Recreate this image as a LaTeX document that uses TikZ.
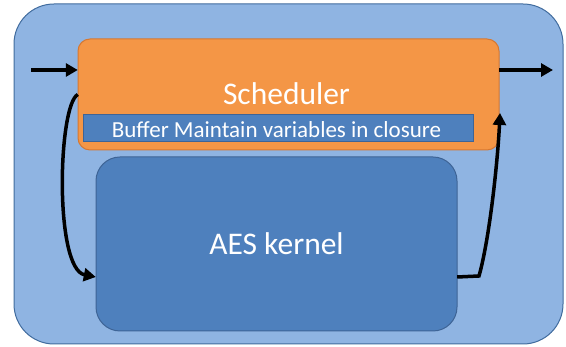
\documentclass[tikz,border=0pt]{standalone}
\usepackage{fontspec}
\setmainfont{Carlito}
\usetikzlibrary{arrows.meta}
\definecolor{outerfill}{RGB}{143,180,226}
\definecolor{outerline}{RGB}{65,108,158}
\definecolor{schedfill}{RGB}{244,150,70}
\definecolor{schedline}{RGB}{214,120,50}
\definecolor{kernfill}{RGB}{78,128,189}
\definecolor{kernline}{RGB}{62,100,150}
\begin{document}
\begin{tikzpicture}[x=1pt,y=1pt,
  panel/.style={draw=outerline,fill=outerfill,line width=1pt,rounded corners=40pt},
  schedbox/.style={draw=schedline,fill=schedfill,line width=1pt,rounded corners=12pt},
  bufbox/.style={draw=kernline,fill=kernfill,line width=1pt},
  kernbox/.style={draw=kernline,fill=kernfill,line width=1pt,rounded corners=24pt},
  flow/.style={line width=3.5pt,-{Triangle[length=12pt,width=13pt]}},
  lbl/.style={text=white,inner sep=0pt,anchor=base}]
\useasboundingbox (0,0) rectangle (566,347);
\fill[white] (0,0) rectangle (566,347);
% outer container
\draw[panel] (14,3) rectangle (563,343);
% scheduler block and its buffer strip
\draw[schedbox] (78,197) rectangle (499,308);
\node[inner sep=0pt,minimum width=421pt,minimum height=111pt] (sched) at (288.5,252.5) {};
\draw[bufbox] (83,205) rectangle (473,232);
\node[lbl,font=\fontsize{23}{26}\selectfont] (buf) at (276.5,209) {Buffer Maintain variables in closure};
\node[lbl,font=\fontsize{31.5}{36}\selectfont] (schedtxt) at (286.5,242) {Scheduler};
% kernel block
\draw[kernbox] (96,16) rectangle (457,190);
\node[inner sep=0pt,minimum width=361pt,minimum height=174pt] (aes) at (276.5,103) {};
\node[lbl,font=\fontsize{31.5}{36}\selectfont] (aestxt) at (276.5,92) {AES kernel};
% data flow
\coordinate (in) at (31,277);
\coordinate (out) at (553,277);
\coordinate (bend) at (479,71);
\coordinate (back) at (500,234);
\draw[flow] (in) -- ([yshift=24.5pt]sched.west);
\draw[flow] ([yshift=24.5pt]sched.east) -- (out);
\draw[flow] (sched.west) .. controls (58,242) and (54,78) .. ([yshift=-33pt]aes.west);
\draw[flow] ([yshift=-33pt]aes.east) -- (bend) .. controls (490,110) and (498,190) .. (back);
\end{tikzpicture}
\end{document}
